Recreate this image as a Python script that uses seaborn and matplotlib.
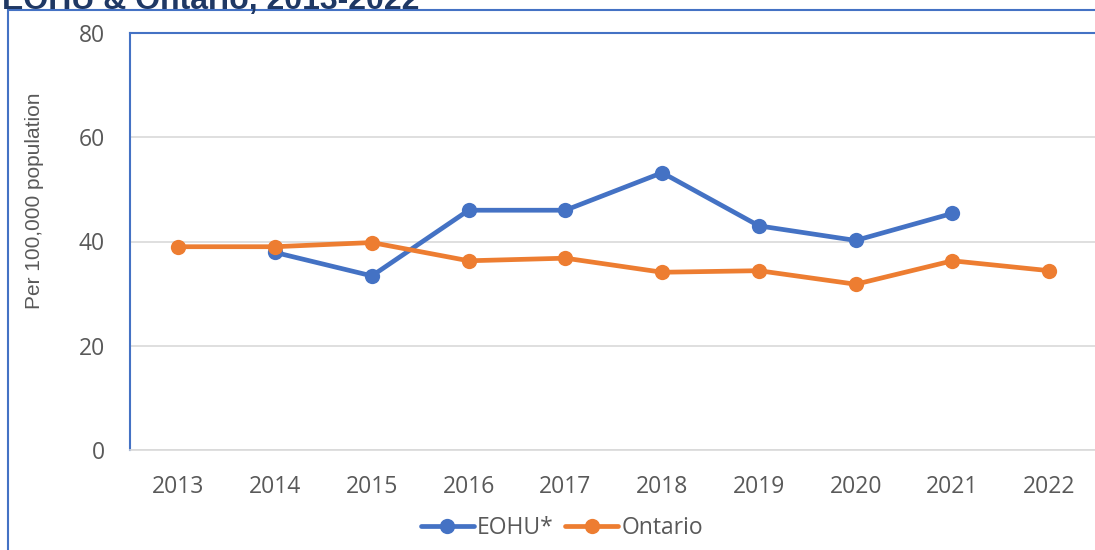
import numpy as np
import pandas as pd
import matplotlib
matplotlib.use("Agg")
import matplotlib.pyplot as plt
from matplotlib.patches import Rectangle
import seaborn as sns

# data
years = [2013, 2014, 2015, 2016, 2017, 2018, 2019, 2020, 2021, 2022]
eohu = [np.nan, 37.9, 33.4, 46.0, 46.0, 53.2, 43.0, 40.2, 45.4, np.nan]
ontario = [39.0, 39.0, 39.8, 36.3, 36.8, 34.1, 34.4, 31.8, 36.3, 34.4]
series_names = ["EOHU*", "Ontario"]
y_ticks = [0, 20, 40, 60, 80]

BLUE = "#4472C4"
ORANGE = "#ED7D31"
TXT = "#595959"

df = pd.DataFrame({"year": years * 2,
                   "rate": eohu + ontario,
                   "series": [series_names[0]] * len(years) + [series_names[1]] * len(years)})
df = df.dropna()

sns.set_style("white")
plt.rcParams["font.family"] = ["Open Sans", "DejaVu Sans"]

fig = plt.figure(figsize=(10.95, 5.5), dpi=100)
ax = fig.add_axes([130 / 1095, 100 / 550, 967.6 / 1095, 417 / 550])

sns.lineplot(data=df, x="year", y="rate", hue="series", hue_order=series_names,
             palette=[BLUE, ORANGE], marker="o", markersize=11, markeredgewidth=0,
             linewidth=3.4, ax=ax, legend=False)

ax.set_xlim(years[0] - 0.5, years[-1] + 0.5)
ax.set_ylim(0, 80)
ax.set_xticks(years)
ax.set_xticklabels([str(y) for y in years])
ax.set_yticks(y_ticks)
ax.tick_params(axis="both", length=0, labelsize=16.5, labelcolor=TXT)
ax.tick_params(axis="y", pad=18)
ax.tick_params(axis="x", pad=18)
ax.grid(axis="y", color="#D9D9D9", linewidth=1.2)
ax.set_axisbelow(True)
ax.set_xlabel("")
ax.set_ylabel("Per 100,000 population", fontsize=15, color=TXT,
              family="Liberation Sans")
ax.yaxis.set_label_coords(-0.0889, 0.597)

for side in ["left", "top", "right"]:
    ax.spines[side].set_color(BLUE)
    ax.spines[side].set_linewidth(1.5)
ax.spines["bottom"].set_color("#D9D9D9")
ax.spines["bottom"].set_linewidth(1.2)

# outer chart frame (runs off the right and bottom edges)
fig.patches.append(Rectangle((8 / 1095, -0.05), 1.2, 0.05 + 540 / 550,
                             transform=fig.transFigure, fill=False,
                             edgecolor=BLUE, linewidth=1.5))

# title, partially cut off at the top in the reference
fig.text(2 / 1095, 541 / 550, "EOHU & Ontario, 2013-2022", fontsize=23,
         fontweight="bold", color="#1F3864", family="Liberation Sans",
         va="baseline", ha="left")

handles = [plt.Line2D([], [], color=c, marker="o", markersize=11, linewidth=3.4,
                      markeredgewidth=0) for c in [BLUE, ORANGE]]
leg = fig.legend(handles, series_names, loc="center", ncol=2,
                 bbox_to_anchor=(562 / 1095, 1 - 528 / 550), frameon=False,
                 fontsize=16.5, handlelength=2.3, handletextpad=0.15,
                 columnspacing=0.5)
for t in leg.get_texts():
    t.set_color(TXT)

fig.savefig("out.png", dpi=100)
